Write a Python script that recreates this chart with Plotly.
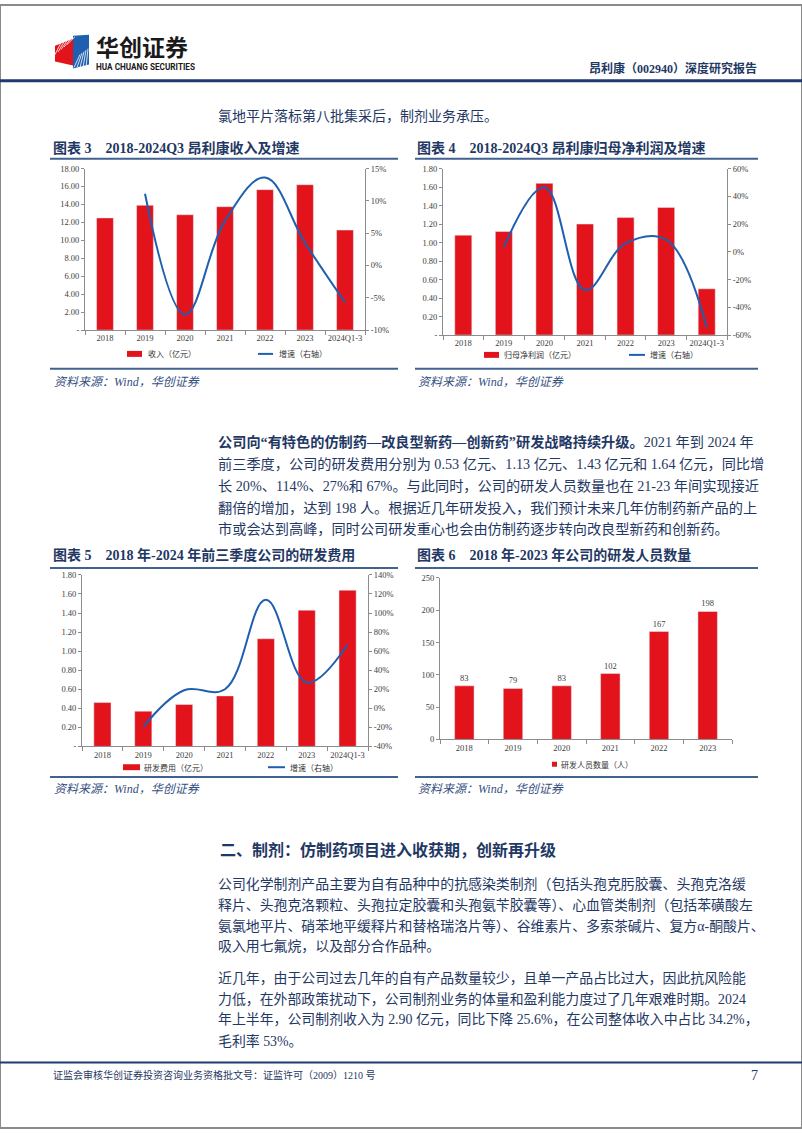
import plotly.graph_objects as go

W, H = 802, 1133

# ---------------- data ----------------
years7 = ["2018", "2019", "2020", "2021", "2022", "2023", "2024Q1-3"]
revenue = [12.50, 13.90, 12.85, 13.75, 15.65, 16.20, 11.15]
revenue_growth = [None, 11.1, -7.6, 6.9, 13.6, 3.5, -5.7]
profit = [1.08, 1.12, 1.64, 1.20, 1.27, 1.38, 0.50]
profit_growth = [None, 3.5, 46.5, -27.5, 6.0, 8.7, -54.5]
rd_expense = [0.46, 0.37, 0.44, 0.53, 1.13, 1.43, 1.64]
rd_growth = [None, -19.6, 18.9, 20.0, 114.0, 27.0, 67.0]
years6 = ["2018", "2019", "2020", "2021", "2022", "2023"]
rd_staff = [83, 79, 83, 102, 167, 198]

RED = "#E3131B"
BLUE = "#1F5FAF"
NAVY = "#1F3864"
RULE = "#41618F"
SERIF = "Liberation Serif, Times New Roman, Noto Sans CJK SC, serif"
SANS = "Noto Sans CJK SC, Liberation Sans, sans-serif"


def px(x):
    return x / W


def py(y):
    return 1 - y / H


fig = go.Figure()

# ---------------- traces ----------------
fig.add_trace(go.Bar(x=years7, y=revenue, marker_color=RED, width=0.42,
                     xaxis="x", yaxis="y", name="收入（亿元）"))
fig.add_trace(go.Scatter(x=years7, y=revenue_growth, mode="lines",
                         line=dict(color=BLUE, width=2, shape="spline", smoothing=1.1),
                         xaxis="x", yaxis="y2", name="增速（右轴）"))
fig.add_trace(go.Bar(x=years7, y=profit, marker_color=RED, width=0.42,
                     xaxis="x2", yaxis="y3", name="归母净利润（亿元）"))
fig.add_trace(go.Scatter(x=years7, y=profit_growth, mode="lines",
                         line=dict(color=BLUE, width=2, shape="spline", smoothing=1.1),
                         xaxis="x2", yaxis="y4", name="增速（右轴）"))
fig.add_trace(go.Bar(x=years7, y=rd_expense, marker_color=RED, width=0.42,
                     xaxis="x3", yaxis="y5", name="研发费用（亿元）"))
fig.add_trace(go.Scatter(x=years7, y=rd_growth, mode="lines",
                         line=dict(color=BLUE, width=2, shape="spline", smoothing=1.1),
                         xaxis="x3", yaxis="y6", name="增速（右轴）"))
fig.add_trace(go.Bar(x=years6, y=rd_staff, marker_color=RED, width=0.4,
                     text=rd_staff, textposition="outside", constraintext="none",
                     cliponaxis=False,
                     textfont=dict(family=SERIF, size=8.5, color="#404040"),
                     xaxis="x4", yaxis="y7", name="研发人员数量（人）"))

tickfont = dict(family=SERIF, size=8.5, color="#404040")
AX = "#8c8c8c"


def xax(x0, x1, anchor):
    return dict(domain=[px(x0), px(x1)], anchor=anchor, type="category",
                showline=True, linecolor=AX, linewidth=1, ticks="outside",
                tickson="boundaries", ticklen=4, tickcolor=AX, tickangle=0,
                showgrid=False, zeroline=False, tickfont=tickfont, fixedrange=True)


def yax(y_top, y_bot, anchor, rng, vals, texts, side="left", overlay=None):
    d = dict(anchor=anchor, range=rng, tickvals=vals, ticktext=texts,
             showline=True, linecolor=AX, linewidth=1, ticks="outside",
             ticklen=3, tickcolor=AX, showgrid=False, zeroline=False,
             tickfont=tickfont, side=side, fixedrange=True)
    if overlay:
        d["overlaying"] = overlay
    else:
        d["domain"] = [py(y_bot), py(y_top)]
    return d


def money_ticks(vals):
    return ["-" if v == 0 else f"{v:.2f}" for v in vals]


v3 = [i * 2 for i in range(10)]
v4 = [i * 0.2 for i in range(10)]
p3 = [-10, -5, 0, 5, 10, 15]
p4 = [-60, -40, -20, 0, 20, 40, 60]
p5 = [-40, -20, 0, 20, 40, 60, 80, 100, 120, 140]
v7 = [0, 50, 100, 150, 200, 250]

fig.update_layout(
    xaxis=xax(85, 365, "y"),
    yaxis=yax(165, 328, "x", [0, 18], v3, money_ticks(v3)),
    yaxis2=yax(165, 328, "x", [-10, 15], p3, [f"{v}%" for v in p3], "right", "y"),
    xaxis2=xax(443, 727, "y3"),
    yaxis3=yax(165, 333, "x2", [0, 1.8], v4, money_ticks(v4)),
    yaxis4=yax(165, 333, "x2", [-60, 60], p4, [f"{v}%" for v in p4], "right", "y3"),
    xaxis3=xax(82, 368, "y5"),
    yaxis5=yax(575, 748, "x3", [0, 1.8], v4, money_ticks(v4)),
    yaxis6=yax(575, 748, "x3", [-40, 140], p5, [f"{v}%" for v in p5], "right", "y5"),
    xaxis4=xax(440, 732, "y7"),
    yaxis7=yax(578, 741, "x4", [0, 250], v7, [str(v) for v in v7]),
)

# ---------------- shapes ----------------
shapes = []


def hline(y, x0, x1, color, width):
    shapes.append(dict(type="line", xref="paper", yref="paper",
                       x0=px(x0), x1=px(x1), y0=py(y), y1=py(y),
                       line=dict(color=color, width=width)))


def poly(points, color):
    path = "M " + " L ".join(f"{px(a):.5f},{py(b):.5f}" for a, b in points) + " Z"
    shapes.append(dict(type="path", xref="paper", yref="paper", path=path,
                       fillcolor=color, line=dict(width=0)))


def seg(x0, y0, x1, y1, color, width):
    shapes.append(dict(type="line", xref="paper", yref="paper",
                       x0=px(x0), x1=px(x1), y0=py(y0), y1=py(y1),
                       line=dict(color=color, width=width)))


# page border
shapes.append(dict(type="rect", xref="paper", yref="paper", x0=0, x1=1, y0=0, y1=1,
                   line=dict(color="#8a8a8a", width=2)))
# header / footer rules
hline(76.5, 0, 802, "#1F3A6E", 3)
hline(1067, 0, 802, "#1F3A6E", 2)
# chart title rules and bottom rules
for (xa, xb) in [(50, 398), (415, 758)]:
    hline(155, xa, xb, RULE, 2)
    hline(367, xa, xb, RULE, 2)
    hline(568, xa, xb, RULE, 2)
    hline(779, xa, xb, RULE, 2)

# logo
poly([(55, 41), (73, 34), (73, 61), (55, 57)], "#E3131B")
poly([(73, 31), (89, 30), (89, 60), (73, 64)], "#1F5FAF")
for k in range(5):
    seg(55 + k * 3, 50 - k * 2.5, 63 + k * 3, 34 - k * 0.5, "white", 0.8)
for k in range(5):
    seg(74 + k * 3, 63, 80 + k * 2, 50 - k * 1.5, "white", 0.8)

# legends (manual)
def leg_bar(x0, x1, y, h=6):
    shapes.append(dict(type="rect", xref="paper", yref="paper",
                       x0=px(x0), x1=px(x1), y0=py(y + h / 2), y1=py(y - h / 2),
                       fillcolor=RED, line=dict(width=0)))


def leg_line(x0, x1, y):
    hline(y, x0, x1, BLUE, 2)


leg_bar(127, 142, 352)
leg_line(258, 273, 352)
leg_bar(484, 499, 353)
leg_line(629, 645, 353)
leg_bar(123, 140, 769)
leg_line(268, 285, 769)
leg_bar(552, 557, 766, h=5)

fig.update_layout(shapes=shapes)

# ---------------- text ----------------
ann = []


def txt(x, y, s, size, color=NAVY, family=SERIF, anchor="left", weight="normal", style="normal"):
    ann.append(dict(xref="paper", yref="paper", x=px(x), y=py(y), text=s,
                    showarrow=False, xanchor=anchor, yanchor="middle",
                    font=dict(size=size, color=color, family=family, weight=weight, style=style)))


# header
txt(94, 41, "华创证券", 23, "#1a1a1a", SANS, weight="bold")
txt(94, 63, "HUA CHUANG SECURITIES", 8.2, "#1a1a1a", "Roboto, Liberation Sans", weight="bold")
txt(759, 64, "昂利康（002940）深度研究报告", 12, NAVY, SERIF, anchor="right", weight="bold")

txt(216, 112, "氯地平片落标第八批集采后，制剂业务承压。", 14)

# chart titles
txt(51, 144, "图表 3    2018-2024Q3 昂利康收入及增速", 14, NAVY, weight="bold")
txt(415, 144, "图表 4    2018-2024Q3 昂利康归母净利润及增速", 14, NAVY, weight="bold")
txt(51, 555, "图表 5    2018 年-2024 年前三季度公司的研发费用", 14, NAVY, weight="bold")
txt(415, 555, "图表 6    2018 年-2023 年公司的研发人员数量", 14, NAVY, weight="bold")

# legends text
LEGF = SANS
txt(146, 352, "收入（亿元）", 8, "#333333", LEGF)
txt(277, 352, "增速（右轴）", 8, "#333333", LEGF)
txt(502, 353, "归母净利润（亿元）", 8, "#333333", LEGF)
txt(648, 353, "增速（右轴）", 8, "#333333", LEGF)
txt(142, 769, "研发费用（亿元）", 8, "#333333", LEGF)
txt(288, 769, "增速（右轴）", 8, "#333333", LEGF)
txt(559, 766, "研发人员数量（人）", 8, "#333333", LEGF)

# sources
for (x, y) in [(52, 380), (416, 380), (52, 791), (416, 791)]:
    txt(x, y, "资料来源：Wind，华创证券", 12, "#34507F", style="italic")

# paragraph 1
para1 = [
    "<b>公司向“有特色的仿制药—改良型新药—创新药”研发战略持续升级。</b>2021 年到 2024 年",
    "前三季度，公司的研发费用分别为 0.53 亿元、1.13 亿元、1.43 亿元和 1.64 亿元，同比增",
    "长 20%、114%、27%和 67%。与此同时，公司的研发人员数量也在 21-23 年间实现接近",
    "翻倍的增加，达到 198 人。根据近几年研发投入，我们预计未来几年仿制药新产品的上",
    "市或会达到高峰，同时公司研发重心也会由仿制药逐步转向改良型新药和创新药。",
]
for i, line in enumerate(para1):
    txt(216, 441 + i * 22, line, 14.2)

txt(218, 853, "二、制剂：仿制药项目进入收获期，创新再升级", 16, NAVY, weight="bold")

para2 = [
    "公司化学制剂产品主要为自有品种中的抗感染类制剂（包括头孢克肟胶囊、头孢克洛缓",
    "释片、头孢克洛颗粒、头孢拉定胶囊和头孢氨苄胶囊等）、心血管类制剂（包括苯磺酸左",
    "氨氯地平片、硝苯地平缓释片和替格瑞洛片等）、谷维素片、多索茶碱片、复方α-酮酸片、",
    "吸入用七氟烷，以及部分合作品种。",
]
for i, line in enumerate(para2):
    txt(216, 887 + i * 21, line, 13.9)

para3 = [
    "近几年，由于公司过去几年的自有产品数量较少，且单一产品占比过大，因此抗风险能",
    "力低，在外部政策扰动下，公司制剂业务的体量和盈利能力度过了几年艰难时期。2024",
    "年上半年，公司制剂收入为 2.90 亿元，同比下降 25.6%，在公司整体收入中占比 34.2%，",
    "毛利率 53%。",
]
for i, line in enumerate(para3):
    txt(216, 982 + i * 21, line, 13.9)

# footer
txt(51, 1080, "证监会审核华创证券投资咨询业务资格批文号：证监许可（2009）1210 号", 10, NAVY)
txt(760, 1080, "7", 14, NAVY, anchor="right")

fig.update_layout(
    annotations=ann,
    width=W, height=H,
    margin=dict(l=0, r=0, t=0, b=0, pad=0),
    paper_bgcolor="white",
    plot_bgcolor="rgba(0,0,0,0)",
    showlegend=False,
    bargap=0.5,
    font=dict(family=SERIF, color="#404040"),
)

fig.write_html("out.html", config={"displayModeBar": False, "staticPlot": True})
